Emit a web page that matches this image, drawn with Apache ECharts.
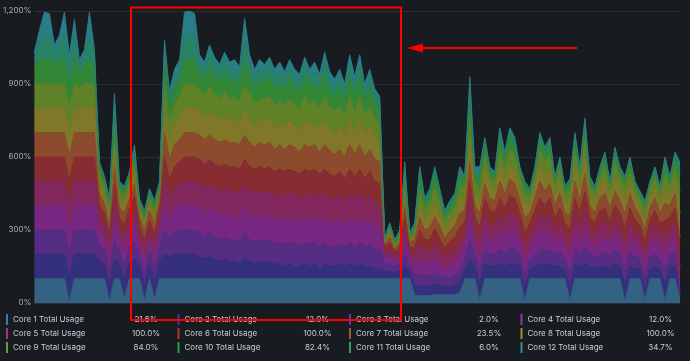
<!DOCTYPE html>
<html>
<head>
<meta charset="utf-8">
<script src="https://cdn.jsdelivr.net/npm/echarts@6/dist/echarts.min.js"></script>
<style>
html,body{margin:0;padding:0;background:#181b1f;}
#c{width:690px;height:361px;}
</style>
</head>
<body>
<div id="c"></div>
<script>
const seriesNames = ['Core 1 Total Usage','Core 2 Total Usage','Core 3 Total Usage','Core 4 Total Usage',
  'Core 5 Total Usage','Core 6 Total Usage','Core 7 Total Usage','Core 8 Total Usage',
  'Core 9 Total Usage','Core 10 Total Usage','Core 11 Total Usage','Core 12 Total Usage'];

const yTickLabels = ['0%','300%','600%','900%','1,200%'];

const core1 = [
100,100,100,100,100,100,100,5,100,100,
100,100,100,100,100,10,100,100,20,100,
100,100,10,100,15,100,100,100,100,100,
100,100,100,100,100,100,100,100,100,100,
100,100,100,100,100,100,100,100,100,100,
100,100,100,100,100,100,100,100,100,100,
100,100,100,100,100,100,100,100,100,100,
100,100,100,100,100,100,30,30,30,30,
35,35,35,35,35,40,100,100,100,10,
100,100,100,100,100,100,100,100,10,100,
100,100,100,100,100,100,100,10,100,100,
100,100,100,100,100,100,100,100,5,100,
100,100,10,100,100,100,10,100,100,21.6];

const core2 = [
100,100,100,100,100,100,100,100,100,100,
100,100,100,70,60,60,80,60,70,70,
80,50,60,60,70,70,100,90,100,100,
100,100,100,90,80,90,80,70,80,70,
70,60,90,70,60,70,60,70,60,60,
50,60,50,50,60,50,60,40,60,50,
50,60,50,60,50,60,50,50,40,40,
30,30,20,30,50,30,40,40,40,40,
40,40,30,30,40,40,40,80,50,60,
60,50,50,60,50,60,60,50,50,40,
50,60,60,60,50,50,40,50,60,50,
60,50,40,50,50,40,60,50,60,50,
40,40,40,40,50,40,60,50,50,12];

const core3 = [
100,100,100,100,100,100,100,100,100,100,
100,100,100,60,60,50,80,50,60,60,
70,50,50,50,60,60,100,80,90,100,
100,100,100,100,90,100,90,90,90,90,
90,90,100,90,90,90,90,90,80,90,
90,90,90,80,90,90,90,90,90,80,
80,80,80,90,80,90,80,90,80,80,
30,30,30,30,50,30,40,50,40,40,
50,40,40,40,40,50,40,80,50,60,
60,50,50,60,60,70,60,50,50,40,
50,60,60,60,50,60,40,60,60,50,
70,50,40,50,60,50,60,50,60,60,
50,40,50,50,50,40,60,50,60,2];

const core4 = [
100,100,100,100,100,100,100,100,100,100,
100,100,100,60,50,60,80,50,60,60,
70,40,50,50,50,60,100,80,90,100,
100,100,100,100,100,100,100,100,100,100,
100,100,100,100,100,100,100,100,100,100,
100,100,100,100,100,100,100,100,100,100,
100,100,90,100,100,100,90,100,90,90,
30,30,20,30,50,30,40,60,50,50,
60,50,40,50,50,60,50,80,50,60,
70,60,60,70,60,70,70,50,60,50,
60,70,60,70,50,60,50,60,70,50,
70,50,50,60,60,50,60,50,60,60,
50,50,50,50,60,50,70,50,60,12];

const core5 = [
100,100,100,100,100,100,100,100,100,100,
100,100,100,60,50,50,80,50,60,50,
60,40,50,40,50,50,100,80,90,90,
100,100,100,100,100,100,100,100,100,100,
100,100,100,100,100,100,100,100,100,100,
100,100,100,100,100,100,100,100,100,100,
100,100,100,100,100,100,100,100,100,90,
20,30,20,20,50,20,40,60,50,50,
60,50,40,50,50,60,50,80,50,60,
70,60,50,70,60,70,70,60,60,50,
60,70,60,70,50,60,50,60,70,60,
80,50,50,60,60,50,60,60,60,60,
50,40,50,50,60,50,70,50,60,100];

const core6 = [
100,100,100,100,100,100,100,100,100,100,
100,100,100,50,50,50,70,40,50,50,
60,40,40,40,40,40,100,80,90,90,
100,100,100,100,100,100,100,100,100,100,
100,100,100,100,100,100,100,100,100,100,
100,100,100,100,100,100,100,100,100,100,
90,100,90,100,90,100,90,100,90,90,
20,30,20,20,50,20,40,60,50,50,
60,50,40,50,50,60,50,80,50,60,
70,60,60,70,60,70,70,60,60,50,
60,70,60,70,50,60,50,60,70,60,
80,50,50,60,60,50,60,60,60,60,
50,50,50,50,60,50,70,50,60,100];

const core7 = [
100,100,100,100,100,100,100,100,100,100,
100,100,100,50,40,40,70,40,50,40,
50,30,40,40,40,40,100,80,90,90,
100,100,100,100,100,100,100,100,100,100,
100,100,100,100,90,100,100,100,90,100,
90,100,100,90,100,100,100,90,100,100,
90,90,90,100,90,100,90,90,90,90,
10,20,10,20,50,20,30,50,40,50,
50,50,40,40,50,60,50,80,50,60,
60,50,50,70,60,70,60,50,60,40,
50,70,60,60,50,60,40,60,70,50,
70,50,40,50,60,50,60,50,60,60,
50,40,50,50,50,40,70,50,60,23.5];

const core8 = [
100,100,100,100,100,100,100,100,100,100,
100,100,100,40,40,40,70,40,40,40,
50,30,30,30,30,30,100,80,90,90,
100,100,100,100,90,100,100,90,100,90,
100,90,100,100,90,90,100,100,90,90,
90,100,90,90,100,90,90,90,100,90,
90,90,90,100,90,100,90,90,90,80,
10,20,10,10,50,10,20,50,40,50,
60,50,40,40,40,60,50,80,50,50,
60,50,40,70,60,60,60,50,60,40,
50,70,60,60,40,50,40,50,70,50,
70,40,40,50,60,40,60,50,60,50,
40,40,40,40,50,40,60,40,60,100];

const core9 = [
100,100,100,100,100,100,100,100,100,90,
100,100,100,40,30,30,70,30,30,30,
40,20,20,20,25,20,100,70,80,90,
100,100,100,90,90,100,90,90,100,90,
90,90,100,100,90,90,90,90,90,90,
90,90,90,90,100,90,90,90,100,90,
90,90,80,100,90,100,80,90,80,80,
10,20,10,20,50,10,20,60,40,50,
60,50,30,40,40,50,40,80,40,50,
60,40,40,60,50,60,60,50,40,30,
40,60,60,60,40,50,40,50,60,50,
70,40,40,40,50,40,60,50,50,50,
40,30,40,40,40,40,60,40,50,84];

const core10 = [
70,100,100,100,80,100,100,95,100,60,
70,100,75,25,20,20,60,20,20,20,
30,10,10,20,20,10,90,60,60,70,
100,100,100,70,70,80,70,70,80,70,
70,70,100,80,60,70,70,80,70,70,
70,80,70,70,80,70,70,70,90,60,
60,70,60,80,60,80,60,70,60,60,
5,10,10,10,40,10,15,60,30,30,
50,30,20,20,30,40,30,80,30,40,
40,20,20,50,40,50,40,20,30,20,
20,40,40,40,20,30,20,30,40,20,
50,20,20,20,40,20,40,20,30,30,
20,20,20,20,20,20,40,20,40,82.4];

const core11 = [
35,70,100,100,50,60,100,70,90,30,
40,100,40,15,10,10,50,10,10,10,
20,10,10,10,10,10,50,40,40,40,
100,100,100,40,40,50,50,40,50,50,
40,40,90,50,40,50,40,50,50,50,
40,50,40,40,50,40,50,40,50,40,
40,50,40,50,40,50,40,50,30,30,
3,5,5,5,20,5,10,30,15,20,
20,15,15,15,15,25,10,60,20,30,
20,10,10,30,10,30,20,10,10,5,
10,20,10,20,10,10,5,10,20,10,
30,10,5,10,10,5,10,10,10,10,
5,5,10,5,10,5,20,10,10,6];

const core12 = [
25,50,95,90,30,40,95,50,75,20,
30,95,25,10,10,10,50,10,10,10,
20,10,10,10,10,10,40,30,40,40,
95,100,90,30,30,40,30,30,30,30,
40,30,90,30,40,40,30,30,30,40,
30,30,30,30,30,30,40,30,40,40,
30,30,30,40,40,40,30,30,30,20,
2,5,5,5,20,5,5,10,5,10,
15,10,10,10,10,15,10,50,20,20,
10,10,10,10,10,10,10,10,10,5,
10,10,10,10,10,10,5,10,10,10,
10,10,5,10,10,5,10,10,5,10,
5,5,10,5,10,5,10,10,10,34.7];

const seriesData = [core1,core2,core3,core4,core5,core6,core7,core8,core9,core10,core11,core12];
const samples = core1.map((_, i) => String(i));

const swatchColors = ['#3f7bb0','#3d3aa8','#6b36b0','#9a32a8','#b0336f','#a83a3a','#9a5a30','#9a9230','#6a9a30','#339a3f','#2f9a72','#2f8f9a'];
const fillColors = ['#346282','#34307d','#552d82','#782882','#82285f','#872d32','#8c4b2d','#807828','#5f8228','#328737','#288264','#287d87'];

const chart = echarts.init(document.getElementById('c'), null, {renderer: 'canvas'});
chart.setOption({
  backgroundColor: '#181b1f',
  animation: false,
  grid: {left: 33, right: 10, top: 11, bottom: 58},
  xAxis: {
    type: 'category', data: samples, boundaryGap: false,
    axisLine: {show: false}, axisTick: {show: false}, axisLabel: {show: false}, splitLine: {show: false}
  },
  yAxis: {
    type: 'value', min: 0, max: 1200, interval: 300,
    axisLine: {show: false}, axisTick: {show: false},
    axisLabel: {
      formatter: v => yTickLabels[Math.round(v / 300)],
      color: '#a9acb3', fontFamily: 'Inter', fontSize: 8, margin: 3
    },
    splitLine: {lineStyle: {color: '#2b2e35', width: 1}}
  },
  legend: {
    left: 6, top: 312.5, width: 688, orient: 'horizontal', padding: 0, itemGap: 0,
    itemWidth: 2, itemHeight: 11, icon: 'rect', selectedMode: false,
    data: seriesNames.map((n, k) => ({name: n, itemStyle: {color: swatchColors[k]}})),
    formatter: name => {
      const k = seriesNames.indexOf(name);
      const d = seriesData[k];
      return '{n|' + name + '}{v|' + d[d.length - 1].toFixed(1) + '%}{g|}';
    },
    textStyle: {
      color: '#ccccdc', fontFamily: 'Inter', fontSize: 8, lineHeight: 14,
      rich: {
        n: {width: 113, color: '#ccccdc', fontFamily: 'Inter', fontSize: 8, lineHeight: 14},
        v: {width: 40, align: 'right', color: '#ccccdc', fontFamily: 'Inter', fontSize: 8, lineHeight: 14},
        g: {width: 11.5, lineHeight: 14}
      }
    }
  },
  series: seriesData.map((d, k) => ({
    name: seriesNames[k], type: 'line', stack: 'total', data: d,
    symbol: 'none', showSymbol: false, silent: true,
    itemStyle: {color: swatchColors[k]},
    lineStyle: {width: 1, color: fillColors[k]},
    areaStyle: {color: fillColors[k], opacity: 1},
    emphasis: {disabled: true}
  })),
  graphic: [
    {type: 'rect', z: 100, shape: {x: 131, y: 7.5, width: 270, height: 312.5}, style: {fill: 'none', stroke: '#fe0000', lineWidth: 2}},
    {type: 'line', z: 100, shape: {x1: 577, y1: 48, x2: 420, y2: 48}, style: {stroke: '#fe0000', lineWidth: 2}},
    {type: 'polygon', z: 100, shape: {points: [[407, 48], [423, 43.5], [423, 52.5]]}, style: {fill: '#fe0000'}}
  ]
});
</script>
</body>
</html>
